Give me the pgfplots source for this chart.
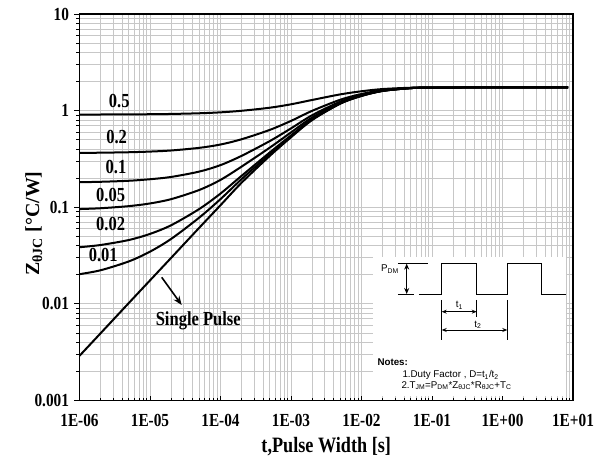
\documentclass[border=0pt]{standalone}
\usepackage{fontspec}
\setmainfont{Liberation Serif}[FakeStretch=0.83]
\newfontfamily\ylfont{Liberation Serif}
\newfontfamily\insetfont{Liberation Sans}
\usepackage{pgfplots}
\pgfplotsset{compat=1.18}
\usetikzlibrary{arrows.meta}
\pgfplotsset{zcurve/.style={black, line width=2bp, smooth, no markers}}

\begin{document}
\begin{tikzpicture}
\begin{axis}[
    at={(0,0)}, anchor=south west,
    scale only axis,
    width=493.5bp, height=386.5bp,
    xmode=log, ymode=log,
    xmin=1e-6, xmax=10, ymin=1e-3, ymax=10,
    xtick={1e-6,1e-5,1e-4,1e-3,1e-2,1e-1,1,10},
    xticklabels={1E-06,1E-05,1E-04,1E-03,1E-02,1E-01,1E+00,1E+01},
    ytick={0.001,0.01,0.1,1,10},
    yticklabels={0.001,0.01,0.1,1,10},
    grid=both,
    major grid style={black!22, line width=0.8bp},
    minor grid style={black!22, line width=0.8bp},
    tick pos=left,
    xtick align=inside, ytick align=outside,
    major tick length=5bp, minor tick length=3bp,
    tick style={black, line width=0.8bp},
    axis line style={black, line width=1.2bp},
    tick label style={font=\bfseries\fontsize{18.5}{18.5}\selectfont},
    yticklabel style={xshift=-2bp},
    xticklabel style={yshift=-10bp},
    xlabel={t,Pulse Width [s]},
    xlabel style={font=\bfseries\fontsize{22}{22}\selectfont, at={(axis description cs:0.5,-0.135)}, anchor=base},
    ylabel={Z\textsubscript{θJC} [°C/W]},
    ylabel style={font=\ylfont\bfseries\fontsize{20}{20}\selectfont, at={(axis description cs:-0.082,0.458)}, anchor=base},
]
% single pulse
\addplot[zcurve] coordinates {(1e-6,0.0029)(2e-6,0.00498)(5e-6,0.0102)(1e-5,0.0175)(2e-5,0.030)(5e-5,0.0614)(1e-4,0.105)(2e-4,0.18)(5e-4,0.34)(1e-3,0.53)(2e-3,0.80)(5e-3,1.18)(1e-2,1.42)(2e-2,1.60)(5e-2,1.71)(1e-1,1.73)(1,1.74)(8.5,1.74)};
% D = 0.01
\addplot[zcurve] coordinates {(1e-6,0.0203)(2e-6,0.0223)(5e-6,0.0275)(1e-5,0.0347)(2e-5,0.0471)(5e-5,0.0782)(1e-4,0.1214)(2e-4,0.196)(5e-4,0.354)(1e-3,0.542)(2e-3,0.81)(5e-3,1.186)(1e-2,1.423)(2e-2,1.601)(5e-2,1.71)(1e-1,1.73)(1,1.74)(8.5,1.74)};
% D = 0.02
\addplot[zcurve] coordinates {(1e-6,0.0386)(2e-6,0.0407)(5e-6,0.0458)(1e-5,0.053)(2e-5,0.0652)(5e-5,0.096)(1e-4,0.1386)(2e-4,0.212)(5e-4,0.369)(1e-3,0.554)(2e-3,0.819)(5e-3,1.191)(1e-2,1.426)(2e-2,1.603)(5e-2,1.711)(1e-1,1.73)(1,1.74)(8.5,1.74)};
% D = 0.05
\addplot[zcurve] coordinates {(1e-6,0.0958)(2e-6,0.0977)(5e-6,0.1027)(1e-5,0.1095)(2e-5,0.1214)(5e-5,0.151)(1e-4,0.192)(2e-4,0.264)(5e-4,0.414)(1e-3,0.595)(2e-3,0.85)(5e-3,1.21)(1e-2,1.437)(2e-2,1.607)(5e-2,1.712)(1e-1,1.73)(1,1.74)(8.5,1.74)};
% D = 0.1
\addplot[zcurve] coordinates {(1e-6,0.1816)(2e-6,0.1835)(5e-6,0.188)(1e-5,0.195)(2e-5,0.206)(5e-5,0.234)(1e-4,0.273)(2e-4,0.341)(5e-4,0.484)(1e-3,0.655)(2e-3,0.897)(5e-3,1.238)(1e-2,1.453)(2e-2,1.614)(5e-2,1.713)(1e-1,1.731)(1,1.74)(8.5,1.74)};
% D = 0.2
\addplot[zcurve] coordinates {(1e-6,0.365)(2e-6,0.367)(5e-6,0.371)(1e-5,0.377)(2e-5,0.387)(5e-5,0.412)(1e-4,0.446)(2e-4,0.506)(5e-4,0.632)(1e-3,0.783)(2e-3,0.996)(5e-3,1.297)(1e-2,1.487)(2e-2,1.629)(5e-2,1.716)(1e-1,1.732)(1,1.74)(8.5,1.74)};
% D = 0.5
\addplot[zcurve] coordinates {(1e-6,0.911)(2e-6,0.912)(5e-6,0.915)(1e-5,0.918)(2e-5,0.924)(5e-5,0.939)(1e-4,0.960)(2e-4,0.997)(5e-4,1.072)(1e-3,1.163)(2e-3,1.29)(5e-3,1.473)(1e-2,1.587)(2e-2,1.673)(5e-2,1.726)(1e-1,1.735)(1,1.74)(8.5,1.74)};

\begin{scope}[font=\bfseries\fontsize{20}{20}\selectfont]
\node at (axis description cs:0.0806,0.7757) {0.5};
\node at (axis description cs:0.0753,0.681) {0.2};
\node at (axis description cs:0.0740,0.605) {0.1};
\node at (axis description cs:0.0632,0.5317) {0.05};
\node at (axis description cs:0.0632,0.4567) {0.02};
\node at (axis description cs:0.0482,0.3765) {0.01};
\node at (axis description cs:0.2407,0.2065) {Single Pulse};
\end{scope}
\draw[black, line width=1.6bp, -{Stealth[length=9bp,width=7bp]}]
  (axis description cs:0.1666,0.3188) -- (axis description cs:0.2071,0.2471);
\end{axis}

% inset: pulse diagram and notes (pixel coordinates of the reference)
\begin{scope}[x=1bp, y=-1bp, shift={(-79.5bp,400.5bp)}]
\fill[white] (373,257) rectangle (566,396);
\draw[line width=1.2bp] (419,294.3) -- (441.7,294.3) -- (441.7,263.3) -- (476.7,263.3)
  -- (476.7,294.3) -- (507.3,294.3) -- (507.3,263.3) -- (541.7,263.3)
  -- (541.7,294.3) -- (566,294.3);
\draw[line width=1bp] (398,263.3) -- (428,263.3);
\draw[line width=1bp] (398,294.3) -- (414,294.3);
\draw[line width=1bp, {Stealth[length=6bp,width=5bp]}-{Stealth[length=6bp,width=5bp]}]
  (406.7,263.6) -- (406.7,294);
\draw[line width=0.6bp] (441.7,300) -- (441.7,340);
\draw[line width=0.6bp] (476.7,300) -- (476.7,316.7);
\draw[line width=0.6bp] (507.3,300) -- (507.3,340);
\draw[line width=0.8bp, {Stealth[length=5bp,width=4bp]}-{Stealth[length=5bp,width=4bp]}]
  (441.7,311.7) -- (476.7,311.7);
\draw[line width=0.8bp, {Stealth[length=5bp,width=4bp]}-{Stealth[length=5bp,width=4bp]}]
  (441.7,330) -- (507.3,330);
\begin{scope}[font=\insetfont\fontsize{9.8}{9.8}\selectfont]
\node at (390,269) {P\textsubscript{DM}};
\node at (459.3,305.5) {t\textsubscript{1}};
\node at (478,325) {t\textsubscript{2}};
\node[anchor=west, font=\insetfont\bfseries\fontsize{9.8}{9.8}\selectfont] at (374,362) {Notes:};
\node[anchor=west] at (399,375) {1.Duty Factor , D=t\textsubscript{1}/t\textsubscript{2}};
\node[anchor=west] at (398,385.5) {2.T\textsubscript{JM}=P\textsubscript{DM}*Z\textsubscript{θJC}*R\textsubscript{θJC}+T\textsubscript{C}};
\end{scope}
\end{scope}

\pgfresetboundingbox
\path (-79.5bp,-58.5bp) rectangle (517.5bp,400.5bp);
\end{tikzpicture}
\end{document}
